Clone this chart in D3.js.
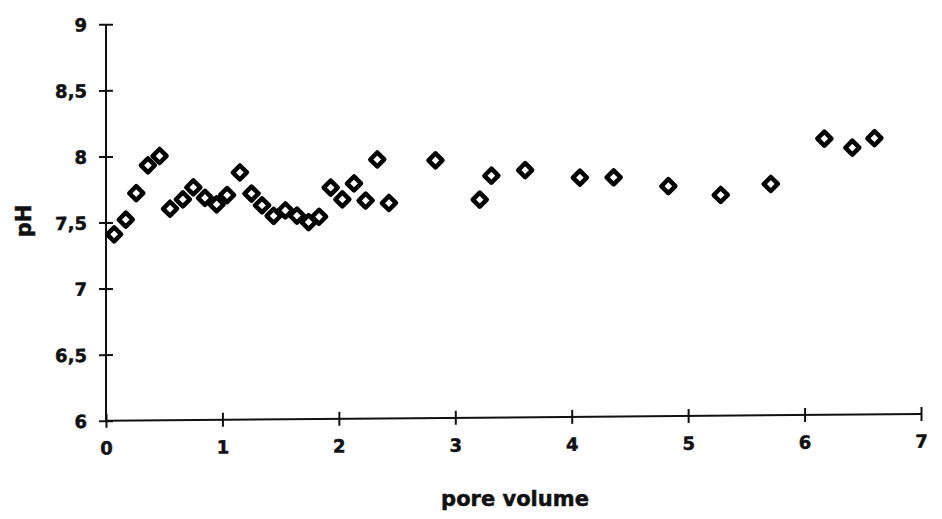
<!DOCTYPE html>
<html>
<head>
<meta charset="utf-8">
<script src="https://cdn.jsdelivr.net/npm/d3@7"></script>
<style>
  html, body { margin: 0; padding: 0; background: #fff; }
  svg { display: block; }
  text { font-family: "DejaVu Sans", sans-serif; font-weight: bold; fill: #111; stroke: #111; stroke-width: 0.5px; }
</style>
</head>
<body>
<svg id="chart" width="942" height="519"></svg>
<script>
// Pore volume (x) and measured pH (y)
const poreVolume = [0.07, 0.17, 0.26, 0.36, 0.46, 0.55, 0.66, 0.75, 0.85, 0.95,
  1.04, 1.15, 1.25, 1.34, 1.44, 1.54, 1.64, 1.74, 1.83, 1.93,
  2.03, 2.13, 2.23, 2.33, 2.43, 2.83, 3.21, 3.31, 3.60, 4.07,
  4.36, 4.83, 5.28, 5.71, 6.17, 6.41, 6.60];
const pH = [7.41, 7.52, 7.72, 7.93, 8.00, 7.60, 7.67, 7.76, 7.68, 7.63,
  7.70, 7.87, 7.71, 7.62, 7.54, 7.58, 7.54, 7.49, 7.53, 7.75,
  7.66, 7.78, 7.65, 7.96, 7.63, 7.95, 7.65, 7.83, 7.87, 7.81,
  7.81, 7.74, 7.67, 7.75, 8.09, 8.02, 8.09];
const xTicks = [0, 1, 2, 3, 4, 5, 6, 7];
const yTicks = [6, 6.5, 7, 7.5, 8, 8.5, 9];

const svg = d3.select("#chart");

const x0 = 106, x1 = 921, yBottom = 420.7, yTop = 24.3;
const x = d3.scaleLinear().domain([0, 7]).range([x0, x1]);
const y = d3.scaleLinear().domain([6, 9]).range([yBottom, yTop]);

// slight vertical shear of the plot frame
const k = -0.00822;
const plot = svg.append("g")
  .attr("transform", `matrix(1,${k},0,1,0,${-k * x0})`);

const locale = d3.formatLocale({ decimal: ",", thousands: ".", grouping: [3], currency: ["", ""] });
const fmt = locale.format("~g");

// Y axis
const yAxis = plot.append("g")
  .attr("transform", `translate(${x0},0)`)
  .call(d3.axisLeft(y).tickValues(yTicks).tickFormat(fmt).tickSize(7).tickPadding(12));
yAxis.selectAll(".tick line").attr("x1", -7).attr("x2", 7);
yAxis.selectAll(".tick text").attr("font-size", 18).attr("dy", "0.36em")
  .style("font-family", "DejaVu Sans").style("font-weight", "bold").attr("fill", "#111");

// X axis
const xAxis = plot.append("g")
  .attr("transform", `translate(0,${yBottom})`)
  .call(d3.axisBottom(x).tickValues(xTicks).tickFormat(d3.format("d")).tickSize(7).tickPadding(14));
xAxis.selectAll(".tick line").attr("y1", -7).attr("y2", 7);
xAxis.selectAll(".tick text").attr("font-size", 18)
  .style("font-family", "DejaVu Sans").style("font-weight", "bold").attr("fill", "#111");

[yAxis, xAxis].forEach(g => {
  g.select(".domain").attr("stroke", "#111").attr("stroke-width", 2);
  g.selectAll(".tick line").attr("stroke", "#111").attr("stroke-width", 2);
});
yAxis.select(".domain").attr("d", `M0,${yBottom}V${yTop}`);
xAxis.select(".domain").attr("d", `M${x0},0H${x1}`);

// Diamond markers
const r = 7;
const diamond = `M0,${-r}L${r},0L0,${r}L${-r},0Z`;
plot.append("g").selectAll("path")
  .data(poreVolume.map((v, i) => [v, pH[i]]))
  .join("path")
  .attr("d", diamond)
  .attr("transform", d => `translate(${x(d[0])},${y(d[1])})`)
  .attr("fill", "#fff")
  .attr("stroke", "#000")
  .attr("stroke-width", 4.5)
  .attr("stroke-linejoin", "round");

// Axis titles
svg.append("text")
  .attr("x", 515).attr("y", 506)
  .attr("text-anchor", "middle")
  .attr("font-size", 21)
  .text("pore volume");

svg.append("text")
  .attr("transform", "translate(31,221) rotate(-90)")
  .attr("text-anchor", "middle")
  .attr("font-size", 21)
  .text("pH");
</script>
</body>
</html>
